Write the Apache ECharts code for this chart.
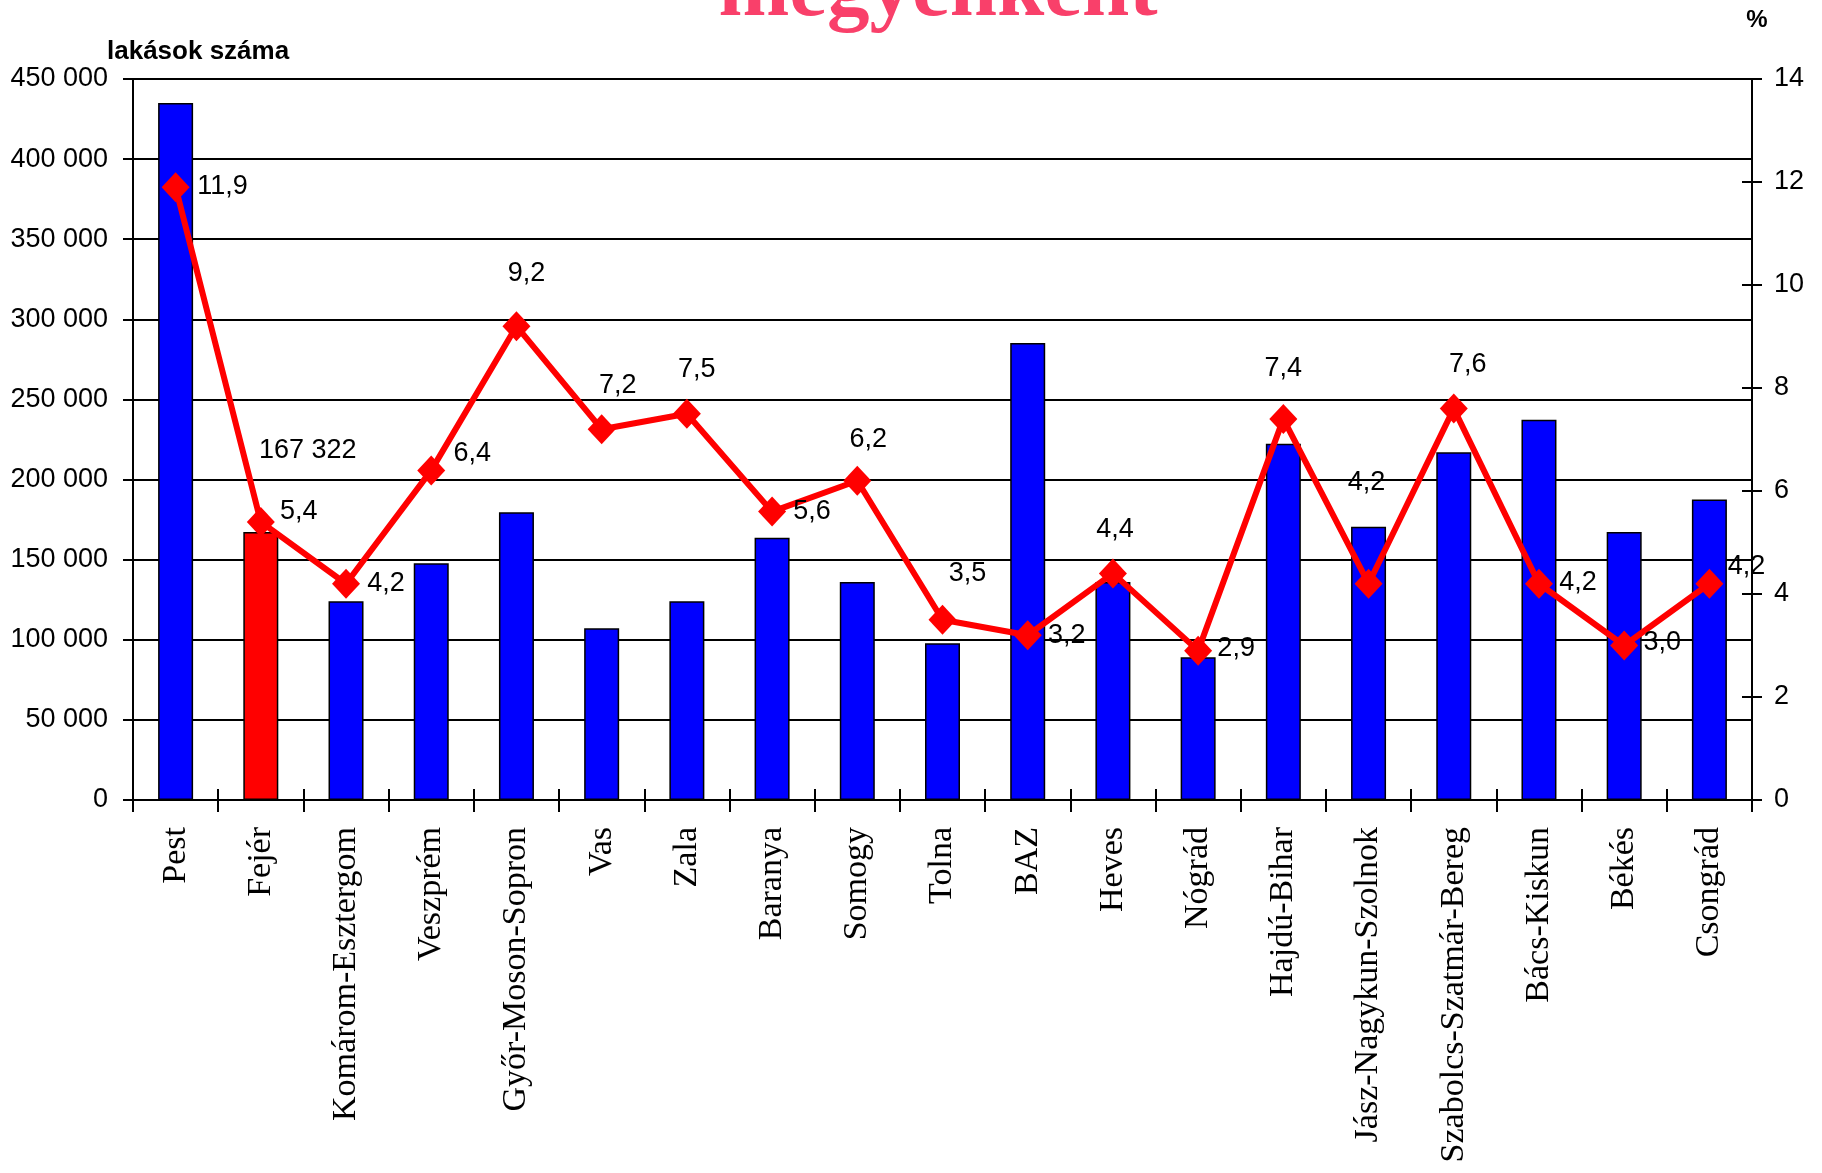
<!DOCTYPE html>
<html>
<head>
<meta charset="utf-8">
<script src="https://cdn.jsdelivr.net/npm/echarts@6/dist/echarts.min.js"></script>
<style>
html,body{margin:0;padding:0;background:#fff;}
#chart{width:1822px;height:1173px;}
</style>
</head>
<body>
<div id="chart"></div>
<script>
// ---- data ----
const categories = ['Pest','Fejér','Komárom-Esztergom','Veszprém','Győr-Moson-Sopron','Vas','Zala','Baranya','Somogy','Tolna','BAZ','Heves','Nógrád','Hajdú-Bihar','Jász-Nagykun-Szolnok','Szabolcs-Szatmár-Bereg','Bács-Kiskun','Békés','Csongrád'];
const dwellings = [435000,167322,124000,147800,179600,107200,124000,163700,136100,97800,285200,136000,89100,222300,170500,217000,237400,167200,187500];
const percent = [11.9,5.4,4.2,6.4,9.2,7.2,7.5,5.6,6.2,3.5,3.2,4.4,2.9,7.4,4.2,7.6,4.2,3.0,4.2];
const highlighted = 'Fejér';
const leftAxis = {min:0, max:450000, step:50000};
const rightAxis = {min:0, max:14, step:2};
const titleText = 'megyénként';
const leftAxisName = 'lakások száma';
const rightAxisName = '%';

// ---- label placement (style, not data) ----
const pctLabelOffsets = [[47,-1],[38,-10],[40,0],[41,-17],[10,-53],[16,-44],[10,-44],[40,0],[11,-41],[25,-46],[39,0],[2,-44],[38,-2],[0,-50],[-2,-101],[14,-44],[39,-1],[38,-3],[37,-17]];

function fmtSpace(v){ return String(Math.round(v)).replace(/\B(?=(\d{3})+(?!\d))/g,' '); }
function fmtComma(v){ return v.toFixed(1).replace('.',','); }

const SANS = '"Liberation Sans", Arial, sans-serif';
const SERIF = '"Liberation Serif", "Times New Roman", serif';

const barData = dwellings.map((v,i)=>{
  const o = {value:v};
  if (categories[i] === highlighted) {
    o.itemStyle = {color:'#FF0000'};
    o.label = {show:true, position:'top', offset:[47,-63], formatter:(p)=>fmtSpace(p.value),
      color:'#000', fontFamily:SANS, fontSize:27};
  }
  return o;
});
const lineData = percent.map((v,i)=>({
  value:v,
  label:{show:true, position:'inside', offset:pctLabelOffsets[i]}
}));

const chart = echarts.init(document.getElementById('chart'), null, {renderer:'canvas'});
chart.setOption({
  animation:false,
  backgroundColor:'#ffffff',
  grid:{left:133, right:70, top:79, bottom:373, containLabel:false},
  graphic:[
    {type:'text', x:938, y:-7, style:{text:titleText, fill:'#F9406A', font:'bold 85px "Liberation Serif", "Times New Roman", serif', textAlign:'center', textVerticalAlign:'middle'}},
    {type:'text', x:107, y:52, style:{text:leftAxisName, fill:'#000', font:'bold 26px "Liberation Sans", Arial, sans-serif', textAlign:'left', textVerticalAlign:'middle'}},
    {type:'text', x:1757, y:20, style:{text:rightAxisName, fill:'#000', font:'bold 24px "Liberation Sans", Arial, sans-serif', textAlign:'center', textVerticalAlign:'middle'}}
  ],
  xAxis:[
    {type:'category', data:categories, position:'bottom', boundaryGap:true,
     axisLine:{show:true, lineStyle:{color:'#000', width:2}},
     axisTick:{show:true, interval:0, length:12, lineStyle:{color:'#000', width:2}},
     axisLabel:{show:true, interval:0, rotate:90, margin:27, color:'#000', fontFamily:SERIF, fontSize:34},
     splitLine:{show:false}},
    {type:'category', data:categories, position:'bottom', boundaryGap:true,
     axisLine:{show:false}, axisLabel:{show:false}, splitLine:{show:false},
     axisTick:{show:true, inside:true, interval:0, length:11, lineStyle:{color:'#000', width:2}}}
  ],
  yAxis:[
    {type:'value', position:'left', min:leftAxis.min, max:leftAxis.max, interval:leftAxis.step,
     axisLine:{show:true, lineStyle:{color:'#000', width:2}},
     axisTick:{show:true, length:10, lineStyle:{color:'#000', width:2}},
     axisLabel:{margin:25, color:'#000', fontFamily:SANS, fontSize:27, formatter:fmtSpace},
     splitLine:{show:true, lineStyle:{color:'#000', width:2}}},
    {type:'value', position:'right', min:rightAxis.min, max:rightAxis.max, interval:rightAxis.step,
     axisLine:{show:true, lineStyle:{color:'#000', width:2}},
     axisTick:{show:true, length:10, lineStyle:{color:'#000', width:2}},
     axisLabel:{margin:22, color:'#000', fontFamily:SANS, fontSize:27},
     splitLine:{show:false}},
    {type:'value', position:'left', min:leftAxis.min, max:leftAxis.max, interval:leftAxis.step,
     axisLine:{show:false}, axisLabel:{show:false}, splitLine:{show:false},
     axisTick:{show:true, inside:true, length:9, lineStyle:{color:'#000', width:2}}},
    {type:'value', position:'right', min:rightAxis.min, max:rightAxis.max, interval:rightAxis.step,
     axisLine:{show:false}, axisLabel:{show:false}, splitLine:{show:false},
     axisTick:{show:true, inside:true, length:10, lineStyle:{color:'#000', width:2}}}
  ],
  series:[
    {type:'bar', name:'lakások száma', xAxisIndex:0, yAxisIndex:0, data:barData, barWidth:35,
     itemStyle:{color:'#0000FF', borderColor:'#000', borderWidth:1.5}, z:2},
    {type:'line', name:'%', xAxisIndex:0, yAxisIndex:1, data:lineData,
     symbol:'diamond', symbolSize:[28,30],
     lineStyle:{color:'#FF0000', width:6}, itemStyle:{color:'#FF0000'},
     label:{show:true, color:'#000', fontFamily:SANS, fontSize:27, formatter:(p)=>fmtComma(p.value)},
     z:5}
  ]
});
</script>
</body>
</html>
